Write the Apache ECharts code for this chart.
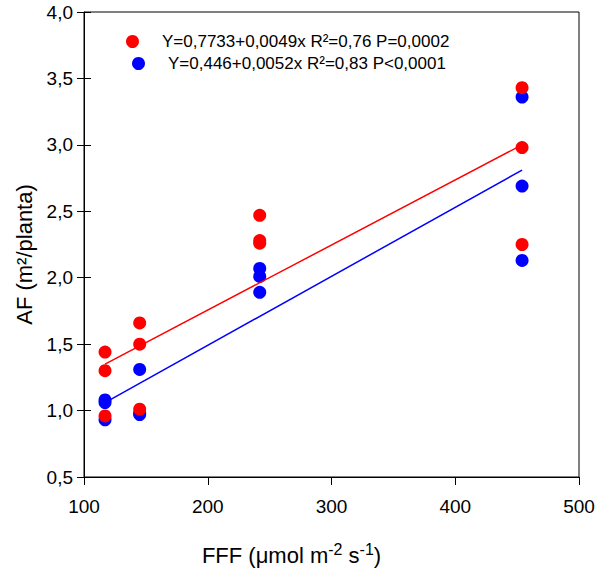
<!DOCTYPE html>
<html>
<head>
<meta charset="utf-8">
<script src="https://cdn.jsdelivr.net/npm/echarts@6/dist/echarts.min.js"></script>
<style>html,body{margin:0;padding:0;background:#fff}#c{width:600px;height:573px}</style>
</head>
<body>
<div id="c"></div>
<script>
// Data
const xLevels = [117, 117, 117, 145, 145, 145, 242, 242, 242, 454, 454, 454];
const redY  = [1.44, 1.30, 0.96, 1.66, 1.50, 1.01, 2.47, 2.28, 2.26, 3.43, 2.98, 2.25];
const blueY = [1.08, 1.06, 0.93, 1.31, 0.98, 0.97, 2.07, 2.01, 1.89, 3.36, 2.69, 2.13];
const lineX = [117, 454];
const redLineY  = [1.35, 3.00];
const blueLineY = [1.06, 2.81];
const redName  = 'Y=0,7733+0,0049x R²=0,76 P=0,0002';
const blueName = 'Y=0,446+0,0052x R²=0,83 P<0,0001';
const xTicks = [100, 200, 300, 400, 500];
const yTicks = [0.5, 1.0, 1.5, 2.0, 2.5, 3.0, 3.5, 4.0];

const pairs = (xs, ys) => xs.map((x, i) => [x, ys[i]]);
const FONT = 'Liberation Sans, Arial, sans-serif';
const RED = '#ff0000', BLUE = '#0000ff';

const chart = echarts.init(document.getElementById('c'), null, {renderer: 'svg'});
chart.setOption({
  animation: false,
  backgroundColor: '#fff',
  grid: {left: 84, right: 21, top: 12, bottom: 96, show: true, borderColor: '#000', borderWidth: 1, containLabel: false},
  legend: [
    {data: [redName], left: 126, top: 33, padding: 0, orient: 'vertical', icon: 'circle', itemWidth: 13, itemHeight: 13,
     textStyle: {fontFamily: FONT, fontSize: 17, color: '#000', padding: [0, 0, 0, 18]}, selectedMode: false},
    {data: [blueName], left: 132, top: 55, padding: 0, orient: 'vertical', icon: 'circle', itemWidth: 13, itemHeight: 13,
     textStyle: {fontFamily: FONT, fontSize: 17, color: '#000', padding: [0, 0, 0, 18]}, selectedMode: false}
  ],
  xAxis: {
    type: 'value', min: xTicks[0], max: xTicks[xTicks.length - 1], interval: 100,
    axisLine: {show: true, lineStyle: {color: '#000', width: 1}},
    axisTick: {show: true, inside: false, length: 8, lineStyle: {color: '#000'}},
    axisLabel: {fontFamily: FONT, fontSize: 19, color: '#000', margin: 20},
    splitLine: {show: false},
    name: 'FFF (μmol m{sup|-2} s{sup|-1})',
    nameLocation: 'middle', nameGap: 64,
    nameTextStyle: {fontFamily: FONT, fontSize: 22, color: '#000', padding: [0, 80, 0, 0],
      rich: {sup: {fontFamily: FONT, fontSize: 16, color: '#000', padding: [0, 0, 12, 0]}}}
  },
  yAxis: [{
    type: 'value', min: yTicks[0], max: yTicks[yTicks.length - 1], interval: 0.5,
    axisLine: {show: true, lineStyle: {color: '#000', width: 1}},
    axisTick: {show: true, inside: false, length: 7, lineStyle: {color: '#000'}},
    axisLabel: {fontFamily: FONT, fontSize: 19, color: '#000', margin: 11,
      formatter: v => v.toFixed(1).replace('.', ',')},
    splitLine: {show: false},
    name: 'AF (m²/planta)', nameLocation: 'middle', nameGap: 45,
    nameTextStyle: {fontFamily: FONT, fontSize: 22, color: '#000', padding: [0, 20, 0, 0]}
  }, {
    type: 'value', min: yTicks[0], max: yTicks[yTicks.length - 1], interval: 0.5, position: 'left',
    axisLine: {show: false}, axisTick: {show: true, inside: true, length: 7, lineStyle: {color: '#000'}},
    axisLabel: {show: false}, splitLine: {show: false}
  }],
  series: [
    {name: blueName, type: 'scatter', data: pairs(xLevels, blueY), symbol: 'circle', symbolSize: 13,
     itemStyle: {color: BLUE, opacity: 1}},
    {name: redName, type: 'scatter', data: pairs(xLevels, redY), symbol: 'circle', symbolSize: 13,
     itemStyle: {color: RED, opacity: 1}},
    {name: 'blueFit', type: 'line', data: pairs(lineX, blueLineY), showSymbol: false, symbol: 'none',
     lineStyle: {color: BLUE, width: 1.5}, z: 3},
    {name: 'redFit', type: 'line', data: pairs(lineX, redLineY), showSymbol: false, symbol: 'none',
     lineStyle: {color: RED, width: 1.5}, z: 3}
  ]
});
</script>
</body>
</html>
